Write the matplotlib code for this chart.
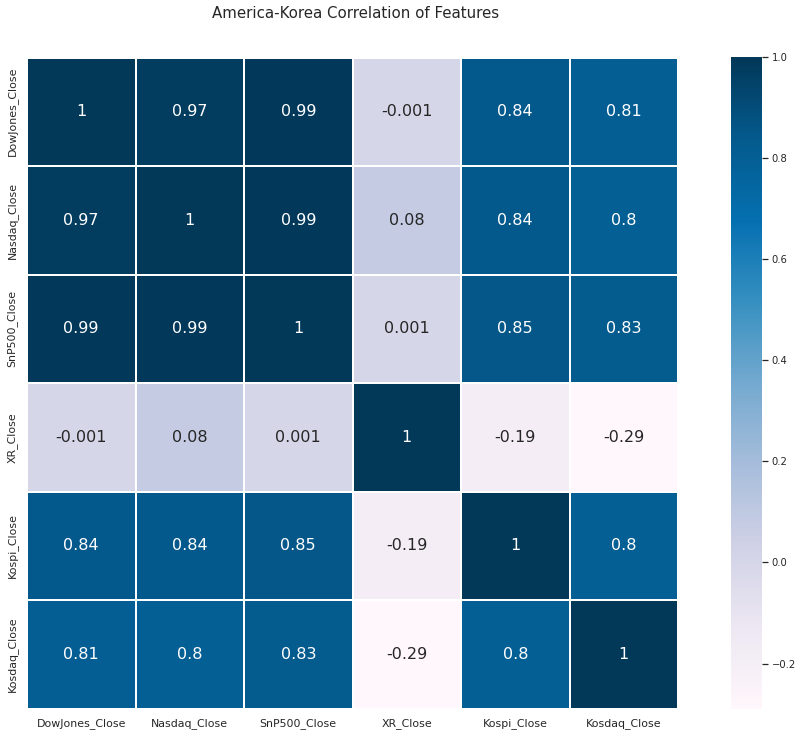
import numpy as np
import pandas as pd
import matplotlib
matplotlib.use("Agg")
import matplotlib.pyplot as plt
import seaborn as sns

features = ["DowJones_Close", "Nasdaq_Close", "SnP500_Close", "XR_Close", "Kospi_Close", "Kosdaq_Close"]
dowjones = [1, 0.97, 0.99, -0.001, 0.84, 0.81]
nasdaq = [0.97, 1, 0.99, 0.08, 0.84, 0.8]
snp500 = [0.99, 0.99, 1, 0.001, 0.85, 0.83]
xr = [-0.001, 0.08, 0.001, 1, -0.19, -0.29]
kospi = [0.84, 0.84, 0.85, -0.19, 1, 0.8]
kosdaq = [0.81, 0.8, 0.83, -0.29, 0.8, 1]

corr = pd.DataFrame([dowjones, nasdaq, snp500, xr, kospi, kosdaq],
                    index=features, columns=features)

sns.set_theme(style="white")
plt.rcParams["font.family"] = ["DejaVu Sans"]

W, H = 805, 737
fig = plt.figure(figsize=(W / 72, H / 72), dpi=72)
ax = fig.add_axes([27 / W, (H - 709) / H, 651 / W, 652 / H])
cax = fig.add_axes([731 / W, (H - 709) / H, 31 / W, 652 / H])

# корреляционная матрица
sns.heatmap(corr, linewidths=0.1, vmax=1.0, square=True, cmap=plt.cm.PuBu,
            linecolor="white", annot=True, annot_kws={"size": 16},
            ax=ax, cbar_ax=cax)
cax.tick_params(labelsize=10)
ax.tick_params(labelsize=11)
fig.text(356 / W, 1 - 14 / H, "America-Korea Correlation of Features",
         ha="center", va="center", fontsize=15)

fig.savefig("out.png", dpi=72)
